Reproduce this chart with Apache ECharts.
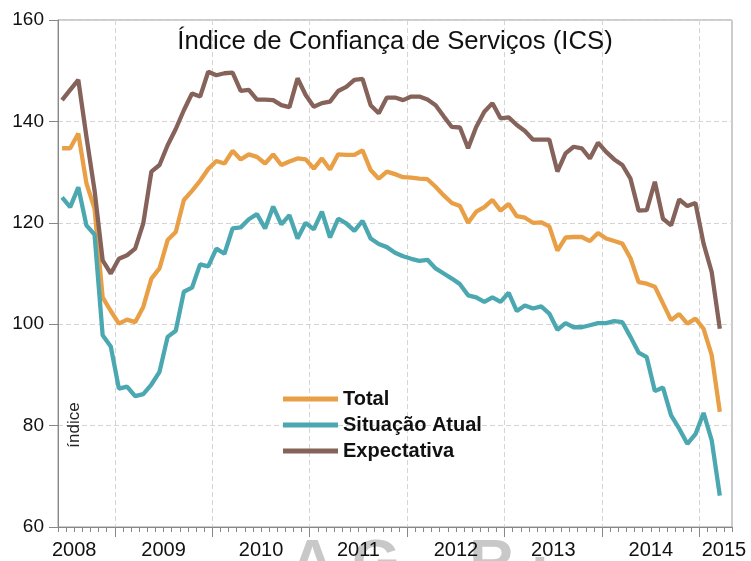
<!DOCTYPE html>
<html lang="pt">
<head>
<meta charset="UTF-8">
<title>Índice de Confiança de Serviços (ICS)</title>
<script src="https://cdn.jsdelivr.net/npm/echarts@6/dist/echarts.min.js"></script>
<style>
  html, body { margin: 0; padding: 0; background: #fff; }
  #chart { width: 751px; height: 561px; }
</style>
</head>
<body>
<div id="chart"></div>
<script>
// meses de jun/2008 a mar/2015 (82 pontos), eixo vai até abr/2015
var axisMonths = 83;

var total = [
  134.7, 134.7, 137.6, 127.8, 122.8, 105.3, 102.6, 100.1, 100.9, 100.4, 103.4, 109.0,
  111.0, 116.6, 118.2, 124.5, 126.3, 128.3, 130.6, 132.2, 131.7, 134.2, 132.5, 133.5,
  133.0, 131.7, 133.5, 131.4, 132.1, 132.7, 132.5, 130.7, 132.7, 130.5, 133.5, 133.4,
  133.4, 134.3, 130.4, 128.7, 130.1, 129.6, 129.0, 128.9, 128.7, 128.6, 127.1, 125.4,
  123.9, 123.3, 120.0, 122.2, 123.1, 124.5, 122.4, 123.7, 121.3, 121.0, 120.0, 120.1,
  119.3, 114.5, 117.1, 117.2, 117.2, 116.4, 118.0, 116.9, 116.4, 115.9, 113.0, 108.3,
  108.0, 107.4, 104.1, 100.8, 102.0, 100.1, 101.1, 99.1, 93.9, 82.7
];
var situacaoAtual = [
  125.0, 123.1, 127.0, 119.5, 117.7, 97.8, 95.6, 87.3, 87.7, 85.8, 86.2, 88.1,
  90.6, 97.5, 98.7, 106.4, 107.2, 111.8, 111.4, 114.9, 113.9, 118.9, 119.1, 120.7,
  121.7, 118.9, 123.2, 119.7, 121.5, 116.9, 120.0, 118.7, 122.2, 117.1, 120.8, 119.9,
  118.4, 120.4, 116.9, 115.8, 115.2, 114.1, 113.4, 112.9, 112.5, 112.7, 111.0, 110.0,
  109.0, 107.9, 105.7, 105.3, 104.4, 105.3, 104.4, 106.2, 102.6, 103.7, 103.1, 103.5,
  102.1, 98.9, 100.2, 99.4, 99.4, 99.8, 100.2, 100.2, 100.6, 100.4, 97.5, 94.4,
  93.5, 86.8, 87.5, 82.0, 79.4, 76.4, 78.3, 82.5, 77.1, 66.2
];
var expectativa = [
  144.2, 146.2, 148.2, 137.0, 126.4, 112.6, 110.0, 112.9, 113.6, 114.9, 119.9, 130.1,
  131.4, 135.3, 138.5, 142.2, 145.5, 144.9, 149.8, 149.1, 149.5, 149.6, 146.0, 146.2,
  144.3, 144.3, 144.2, 143.2, 142.8, 148.5, 145.2, 142.9, 143.6, 143.9, 146.0, 146.8,
  148.2, 148.4, 143.2, 141.6, 144.7, 144.7, 144.2, 144.9, 144.9, 144.3, 143.2, 141.0,
  138.9, 138.8, 134.7, 138.9, 141.9, 143.6, 140.6, 140.8, 139.3, 138.1, 136.4, 136.4,
  136.4, 130.1, 133.7, 135.0, 134.7, 132.7, 135.8, 134.0, 132.5, 131.4, 128.7, 122.4,
  122.5, 128.1, 120.8, 119.5, 124.6, 123.3, 123.9, 115.9, 110.3, 99.1
];

var yearLabels = ['2008', '2009', '2010', '2011', '2012', '2013', '2014', '2015'];
var yearLabelAt = [2, 13, 25, 37, 49, 61, 73, 82];   // meses desde jun/2008
var yearStarts = [7, 19, 31, 43, 55, 67, 79];        // janeiros

var colors = ['#E99F46', '#4BA8B1', '#86635A'];

function toPoints(arr) {
  return arr.map(function (v, i) { return [i + 0.5, v]; });
}

var chart = echarts.init(document.getElementById('chart'));

var font = 'Liberation Sans, Arial, sans-serif';

var option = {
  animation: false,
  grid: {
    left: 58, right: 19, top: 20, bottom: 34,
    show: true, borderColor: '#999', borderWidth: 1
  },
  graphic: [
    {
      type: 'text', x: 395, y: 29, z: 10,
      style: {
        text: 'Índice de Confiança de Serviços (ICS)',
        font: '25.7px ' + font, fill: '#111',
        textAlign: 'center', textVerticalAlign: 'top'
      }
    },
    {
      type: 'text', x: 74, y: 425, rotation: Math.PI / 2, z: 10,
      style: {
        text: 'índice', font: '17px ' + font, fill: '#222',
        textAlign: 'center', textVerticalAlign: 'middle'
      }
    },
    {
      type: 'text', x: 290, y: 534, z: -1,
      style: {
        text: 'A G    R ·', font: 'bold 62px ' + font, fill: '#c8c8c8'
      }
    }
  ],
  legend: {
    orient: 'vertical',
    left: 283, top: 389, padding: 0,
    itemWidth: 55, itemHeight: 5, itemGap: 6,
    icon: 'rect',
    textStyle: { fontFamily: font, fontSize: 20, fontWeight: 'bold', color: '#111' },
    data: ['Total', 'Situação Atual', 'Expectativa']
  },
  xAxis: [
    {
      type: 'value', min: 0, max: axisMonths, interval: 1,
      axisLine: { lineStyle: { color: '#888' } },
      axisTick: { length: 5, lineStyle: { color: '#888' } },
      splitLine: { show: false },
      axisLabel: {
        margin: 13, fontFamily: font, fontSize: 20, color: '#111',
        formatter: function (v) {
          var k = yearLabelAt.indexOf(Math.round(v));
          return k >= 0 ? yearLabels[k] : '';
        }
      }
    },
    {
      type: 'value', min: 0, max: axisMonths, position: 'bottom',
      axisLine: { show: false },
      axisTick: { length: 10, customValues: yearStarts, lineStyle: { color: '#888' } },
      axisLabel: { show: false },
      splitLine: {
        show: true, customValues: yearStarts,
        lineStyle: { color: '#d4d4d4', type: [5, 3] }
      }
    }
  ],
  yAxis: {
    type: 'value', min: 60, max: 160, interval: 20,
    axisLine: { show: true, lineStyle: { color: '#888' } },
    axisTick: { show: true, length: 9, lineStyle: { color: '#888' } },
    axisLabel: { margin: 14, fontFamily: font, fontSize: 19, color: '#111' },
    splitLine: { lineStyle: { color: '#d4d4d4', type: [5, 3] } }
  },
  series: [
    {
      name: 'Total', type: 'line', data: toPoints(total),
      showSymbol: false, lineStyle: { width: 4.3, color: colors[0] }, itemStyle: { color: colors[0] }
    },
    {
      name: 'Situação Atual', type: 'line', data: toPoints(situacaoAtual),
      showSymbol: false, lineStyle: { width: 4.3, color: colors[1] }, itemStyle: { color: colors[1] }
    },
    {
      name: 'Expectativa', type: 'line', data: toPoints(expectativa),
      showSymbol: false, lineStyle: { width: 4.3, color: colors[2] }, itemStyle: { color: colors[2] }
    }
  ]
};

chart.setOption(option);
</script>
</body>
</html>
